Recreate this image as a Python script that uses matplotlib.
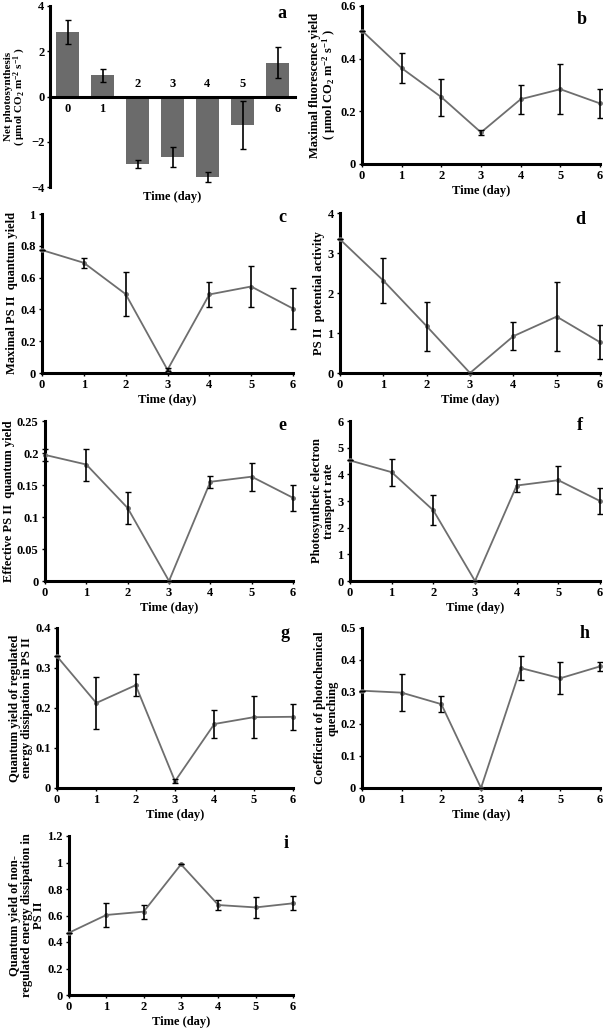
import matplotlib
matplotlib.use("Agg")
import matplotlib.pyplot as plt

plt.rcParams['font.family'] = ['Liberation Serif', 'DejaVu Serif']
plt.rcParams['font.weight'] = 'bold'
plt.rcParams['mathtext.fontset'] = 'custom'
plt.rcParams['mathtext.rm'] = 'Liberation Serif:bold'
plt.rcParams['mathtext.it'] = 'Liberation Serif:bold'
plt.rcParams['mathtext.bf'] = 'Liberation Serif:bold'

days = [0, 1, 2, 3, 4, 5, 6]

net_ps = [2.85, 0.93, -3.0, -2.67, -3.55, -1.25, 1.5]
net_ps_err = [0.55, 0.3, 0.18, 0.43, 0.22, 1.05, 0.7]

fm = [0.506, 0.364, 0.254, 0.12, 0.246, 0.284, 0.23]
fm_err = [0.0, 0.058, 0.07, 0.01, 0.055, 0.094, 0.056]

fvfm = [0.773, 0.693, 0.496, 0.02, 0.494, 0.544, 0.405]
fvfm_err = [0.0, 0.03, 0.137, 0.01, 0.078, 0.13, 0.127]

fvfo = [3.34, 2.31, 1.17, 0.0, 0.92, 1.41, 0.77]
fvfo_err = [0.0, 0.57, 0.61, 0.0, 0.35, 0.86, 0.42]

yii = [0.197, 0.182, 0.114, 0.0, 0.155, 0.163, 0.130]
yii_err = [0.01, 0.025, 0.025, 0.0, 0.009, 0.022, 0.02]

etr = [4.52, 4.08, 2.65, 0.0, 3.58, 3.78, 3.0]
etr_err = [0.0, 0.5, 0.56, 0.0, 0.23, 0.53, 0.47]

ynpq = [0.329, 0.2125, 0.257, 0.017, 0.16, 0.177, 0.178]
ynpq_err = [0.0, 0.065, 0.027, 0.005, 0.035, 0.053, 0.033]

qp = [0.304, 0.298, 0.262, 0.0, 0.375, 0.343, 0.38]
qp_err = [0.0, 0.058, 0.026, 0.0, 0.038, 0.05, 0.013]

yno = [0.47, 0.604, 0.629, 0.986, 0.679, 0.661, 0.692]
yno_err = [0.0, 0.09, 0.053, 0.0, 0.04, 0.08, 0.053]

W, H = 603, 1034
fig = plt.figure(figsize=(W / 100, H / 100), dpi=100)

LINE_C = '#6e6e6e'
BAR_C = '#6b6b6b'
FS = 9
LFS = 13


def add_ax(l, t, r, b):
    return fig.add_axes([l / W, 1 - b / H, (r - l) / W, (b - t) / H])


def style(ax):
    for s in ['top', 'right']:
        ax.spines[s].set_visible(False)
    for s in ['left', 'bottom']:
        ax.spines[s].set_linewidth(2.2)
        ax.spines[s].set_color('black')
    ax.tick_params(axis='both', labelsize=FS, width=1.0, length=2.5, pad=2)
    for lab in ax.get_xticklabels() + ax.get_yticklabels():
        lab.set_fontweight('bold')


def line_panel(box, vals, errs, ylim, yticks, yticklabels, ylabel, letter, letter_pos):
    ax = add_ax(*box)
    ax.plot(days, vals, color=LINE_C, lw=1.3, marker='o', ms=2.5, clip_on=False, zorder=3)
    ax.errorbar(days, vals, yerr=errs, fmt='none', ecolor='black', elinewidth=1.2,
                capsize=2, capthick=1.0, clip_on=False, zorder=4)
    ax.set_xlim(0, 6)
    ax.set_ylim(*ylim)
    ax.set_xticks(days)
    ax.set_yticks(yticks)
    ax.set_yticklabels(yticklabels)
    ax.set_xlabel('Time (day)', fontsize=FS, fontweight='bold', labelpad=2)
    ax.set_ylabel(ylabel, fontsize=FS, fontweight='bold', labelpad=1.5, linespacing=1.0)
    style(ax)
    fig.text(letter_pos[0] / W, 1 - letter_pos[1] / H, letter, fontsize=LFS,
             fontweight='bold', ha='center', va='center')
    return ax


# Panel a (bar chart)
ax = add_ax(50, 6, 295, 187)
ax.bar(days, net_ps, width=0.66, color=BAR_C, zorder=2)
ax.errorbar(days, net_ps, yerr=net_ps_err, fmt='none', ecolor='black', elinewidth=1.2,
            capsize=2, capthick=1.0, zorder=3)
ax.set_xlim(-0.5, 6.5)
ax.set_ylim(-4, 4)
ax.set_yticks([-4, -2, 0, 2, 4])
ax.set_yticklabels(['\u22124', '\u22122', '0', '2', '4'])
ax.spines['bottom'].set_position(('data', 0))
style(ax)
ax.tick_params(axis='y', pad=1.5)
ax.set_xticks([])
for d, v in zip(days, net_ps):
    if v >= 0:
        ax.annotate(str(d), (d, 0), xytext=(0, -5), textcoords='offset points',
                    ha='center', va='top', fontsize=FS, fontweight='bold')
    else:
        ax.annotate(str(d), (d, 0), xytext=(0, 5), textcoords='offset points',
                    ha='center', va='bottom', fontsize=FS, fontweight='bold')
ax.set_ylabel('Net photosynthesis\n( \u03bcmol CO$_2$ m$^{-2}$ s$^{-1}$ )', fontsize=8,
              fontweight='bold', linespacing=0.95)
ax.yaxis.set_label_coords(-0.088, 0.5)
fig.text(172 / W, 1 - 197 / H, 'Time (day)', fontsize=FS, fontweight='bold',
         ha='center', va='center')
fig.text(282 / W, 1 - 13 / H, 'a', fontsize=LFS, fontweight='bold', ha='center', va='center')

line_panel((362, 6, 600, 164), fm, fm_err, (0, 0.6), [0, 0.2, 0.4, 0.6],
           ['0', '0.2', '0.4', '0.6'],
           'Maximal fluorescence yield\n( \u03bcmol CO$_2$ m$^{-2}$ s$^{-1}$ )', 'b', (582, 20))

line_panel((42, 214, 293, 373), fvfm, fvfm_err, (0, 1), [0, 0.2, 0.4, 0.6, 0.8, 1],
           ['0', '0.2', '0.4', '0.6', '0.8', '1'],
           'Maximal PS II  quantum yield', 'c', (282, 218))

line_panel((340, 213, 600, 373), fvfo, fvfo_err, (0, 4), [0, 1, 2, 3, 4],
           ['0', '1', '2', '3', '4'],
           'PS II  potential activity', 'd', (580, 220))

line_panel((45, 421, 293, 581), yii, yii_err, (0, 0.25), [0, 0.05, 0.1, 0.15, 0.2, 0.25],
           ['0', '0.05', '0.1', '0.15', '0.2', '0.25'],
           'Effective PS II  quantum yield', 'e', (282, 425))

line_panel((350, 421, 600, 581), etr, etr_err, (0, 6), [0, 1, 2, 3, 4, 5, 6],
           ['0', '1', '2', '3', '4', '5', '6'],
           'Photosynthetic electron\ntransport rate', 'f', (580, 425))

line_panel((57, 628, 293, 788), ynpq, ynpq_err, (0, 0.4), [0, 0.1, 0.2, 0.3, 0.4],
           ['0', '0.1', '0.2', '0.3', '0.4'],
           'Quantum yield of regulated\nenergy dissipation in PS II', 'g', (285, 633))

line_panel((362, 628, 600, 788), qp, qp_err, (0, 0.5), [0, 0.1, 0.2, 0.3, 0.4, 0.5],
           ['0', '0.1', '0.2', '0.3', '0.4', '0.5'],
           'Coefficient of photochemical\nquenching', 'h', (585, 633))

line_panel((69, 836, 293, 995), yno, yno_err, (0, 1.2), [0, 0.2, 0.4, 0.6, 0.8, 1, 1.2],
           ['0', '0.2', '0.4', '0.6', '0.8', '1', '1.2'],
           'Quantum yield of non-\nregulated energy dissipation in\nPS II', 'i', (286, 843))

fig.savefig('out.png', dpi=100)
